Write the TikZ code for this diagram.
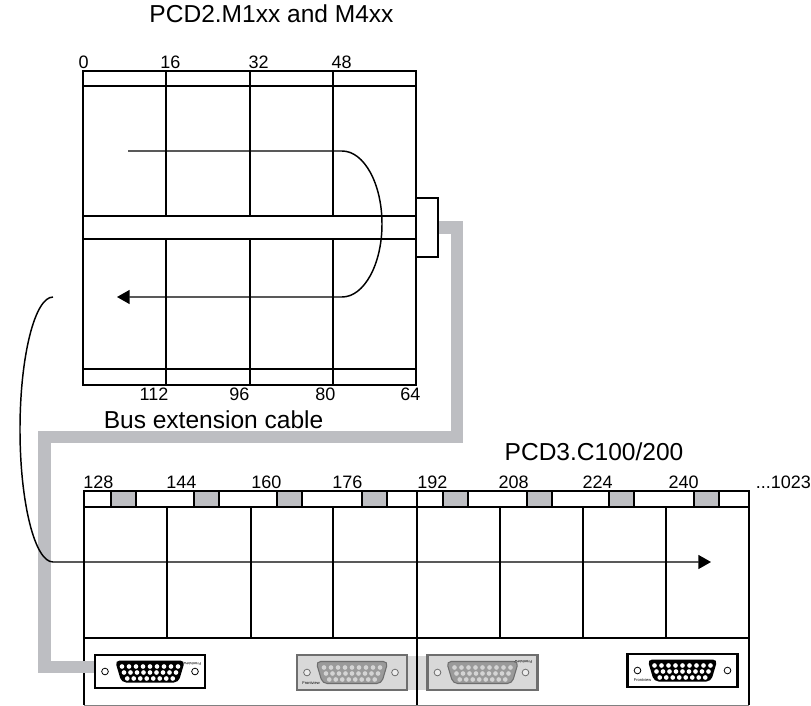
\documentclass[tikz,border=0pt]{standalone}
\usepackage{fontspec}
\setmainfont{Liberation Sans}
\usetikzlibrary{arrows.meta}
\definecolor{cablegray}{HTML}{BDBEC2}
\definecolor{ghostfill}{HTML}{D8D8D8}
\definecolor{ghostline}{HTML}{6E6E6E}
\definecolor{ghostD}{HTML}{9A9A9A}
\definecolor{ghostpin}{HTML}{D4D4D4}
\definecolor{bridgegray}{HTML}{DADADA}
\begin{document}
\begin{tikzpicture}[x=0.75pt,y=-0.75pt,
  frame/.style={line width=1.25pt},
  thinframe/.style={line width=0.5pt, draw=gray},
  flow/.style={line width=1.1pt},
  tip/.style={-{Triangle[length=9.5pt,width=10.5pt]}},
  cable/.style={draw=cablegray, line width=9.5pt, line join=miter},
  title/.style={font=\fontsize{18.4}{20}\selectfont, inner sep=0pt},
  lbl/.style={font=\fontsize{13.5}{15}\selectfont, inner sep=0pt},
  tiny/.style={font=\fontsize{3}{3.5}\selectfont, inner sep=0pt},
  slot/.style={fill=cablegray, draw=black, line width=1.25pt},
  dsubblack/.pic={
    \draw[line width=1.8pt, fill=white] (-55,-16.5) rectangle (55,16.5);
    \draw[line width=0.6pt] (-45,0) circle[radius=2.5pt];
    \draw[line width=0.6pt] (45,0) circle[radius=2.5pt];
    \fill[rounded corners=3.5pt] (-35,-11) -- (35,-11) -- (28.5,11) -- (-28.5,11) -- cycle;
    \foreach \i in {0,...,8} \fill[white] ({-28+7*\i},-5) circle[radius=1.75pt];
    \foreach \i in {0,...,8} \fill[white] ({-26+6.5*\i},1) circle[radius=1.75pt];
    \foreach \i in {0,...,7} \fill[white] ({-22.75+6.5*\i},7) circle[radius=1.75pt];
    \coordinate (-w) at (-55,-4.5);
  },
  dsubghost/.pic={
    \draw[line width=1.8pt, draw=ghostline, fill=ghostfill] (-55,-17.5) rectangle (55,17.5);
    \draw[line width=0.6pt, draw=ghostline, fill=white!85!gray] (-45,0) circle[radius=2.5pt];
    \draw[line width=0.6pt, draw=ghostline, fill=white!85!gray] (43,0) circle[radius=2.5pt];
    \filldraw[fill=ghostD, draw=ghostline, line width=0.8pt, rounded corners=3.5pt] (-36,-11) -- (36,-11) -- (29.5,11) -- (-29.5,11) -- cycle;
    \foreach \i in {0,...,8} \fill[ghostpin] ({-28+7*\i},-5) circle[radius=1.75pt];
    \foreach \i in {0,...,8} \fill[ghostpin] ({-26+6.5*\i},1) circle[radius=1.75pt];
    \foreach \i in {0,...,7} \fill[ghostpin] ({-22.75+6.5*\i},7) circle[radius=1.75pt];
  }
]
\useasboundingbox (0,0) rectangle (811,706);

% ---------- titles ----------
\node[title, anchor=base] (t1) at (271.5,23) {PCD2.M1xx and M4xx};
\node[title, anchor=base] (t2) at (594,460) {PCD3.C100/200};
\node[title, anchor=base west] (t3) at (103.5,428) {Bus extension cable};

% ---------- top module (PCD2) ----------
\draw[frame] (83,71) rectangle (416,385);
\draw[frame] (83,86) -- (416,86);
\draw[frame] (83,216) -- (416,216);
\draw[frame] (83,239) -- (416,239);
\draw[frame] (83,369) -- (416,369);
\foreach \x in {166,250,333} {
  \draw[frame] (\x,71) -- (\x,216);
  \draw[frame] (\x,239) -- (\x,385);
}
\node[frame, draw, fill=white, minimum width=16.5pt, minimum height=44.25pt, inner sep=0pt] (busout) at (427,227.5) {};

\node[lbl, anchor=base west] (a0) at (78.3,68.5) {0};
\node[lbl, anchor=base west] (a16) at (160,68.5) {16};
\node[lbl, anchor=base west] (a32) at (248.3,68.5) {32};
\node[lbl, anchor=base west] (a48) at (331.3,68.5) {48};
\node[lbl, anchor=base east] (a112) at (168.7,400.7) {112};
\node[lbl, anchor=base east] (a96) at (249.7,400.7) {96};
\node[lbl, anchor=base east] (a80) at (335.7,400.7) {80};
\node[lbl, anchor=base east] (a64) at (420.7,400.7) {64};

% ---------- bottom module (PCD3) ----------
\draw[frame] (84,491) rectangle (749,507);
\foreach \x in {111,194,277,362,443,527,609,694}
  \draw[slot] (\x,491) rectangle ++(25,16);
\foreach \x in {84,167,251,333,500,583,666,749}
  \draw[frame] (\x,507) -- (\x,638);
\draw[frame] (84,638) -- (749,638);
\draw[frame] (84,638) -- (84,705);
\draw[frame] (749,638) -- (749,705);
\draw[thinframe] (84,705) -- (749,705);

\node[lbl, anchor=base west] (b128) at (83,488) {128};
\node[lbl, anchor=base west] (b144) at (166,488) {144};
\node[lbl, anchor=base west] (b160) at (251,488) {160};
\node[lbl, anchor=base west] (b176) at (332,488) {176};
\node[lbl, anchor=base west] (b192) at (417,488) {192};
\node[lbl, anchor=base west] (b208) at (498.3,488) {208};
\node[lbl, anchor=base west] (b224) at (582.3,488) {224};
\node[lbl, anchor=base west] (b240) at (668.3,488) {240};
\node[lbl, anchor=base west] (b1023) at (755.5,488) {...1023};

% ---------- connectors (D-sub) ----------
\fill[bridgegray] (407,656) rectangle (428,690);
\pic (dA) at (150,671.5) {dsubblack};
\pic (dB) at (352,672.5) {dsubghost};
\pic (dC) at (482.5,672.5) {dsubghost};
\pic (dD) at (682.5,670.5) {dsubblack};
\node[tiny] (fB) at (311,683.5) {Frontview};
\node[tiny, rotate=180] (fC) at (523.5,661.5) {Frontview};
\node[tiny] (fD) at (642.5,680) {Frontview};

% module divider
\draw[frame] (417,491) -- (417,705);

% ---------- bus extension cable ----------
\coordinate (c1) at (457,227.5);
\coordinate (c2) at (457,437);
\coordinate (c3) at (44.5,437);
\coordinate (c4) at (44.5,667);
\draw[cable] (busout.east) -- (c1) -- (c2) -- (c3) -- (c4) -- (dA-w);
\node[frame, draw, fill=white, minimum width=16.5pt, minimum height=44.25pt, inner sep=0pt] at (busout) {};
\draw[frame] (416,198) -- (416,257);

% ---------- data flow arrows ----------
\coordinate (f1) at (128,151);
\coordinate (f2) at (342,151);
\coordinate (f3) at (382,224);
\coordinate (f4) at (342,297);
\coordinate (f5) at (117,297);
\draw[flow, tip] (f1) -- (f2) .. controls (364.1,151) and (382,183.7) .. (f3)
  .. controls (382,264.3) and (364.1,297) .. (f4) -- (f5);

\coordinate (g1) at (53,297);
\coordinate (g2) at (20,429.5);
\coordinate (g3) at (53,562);
\coordinate (g4) at (711,562);
\draw[flow, tip] (g1) .. controls (34.8,297) and (20,356.3) .. (g2)
  .. controls (20,502.7) and (34.8,562) .. (g3) -- (g4);

% connector A on top of cable end
\pic at (150,671.5) {dsubblack};
\node[tiny, rotate=180] (fA) at (192.5,663.5) {Frontview};
\end{tikzpicture}
\end{document}
